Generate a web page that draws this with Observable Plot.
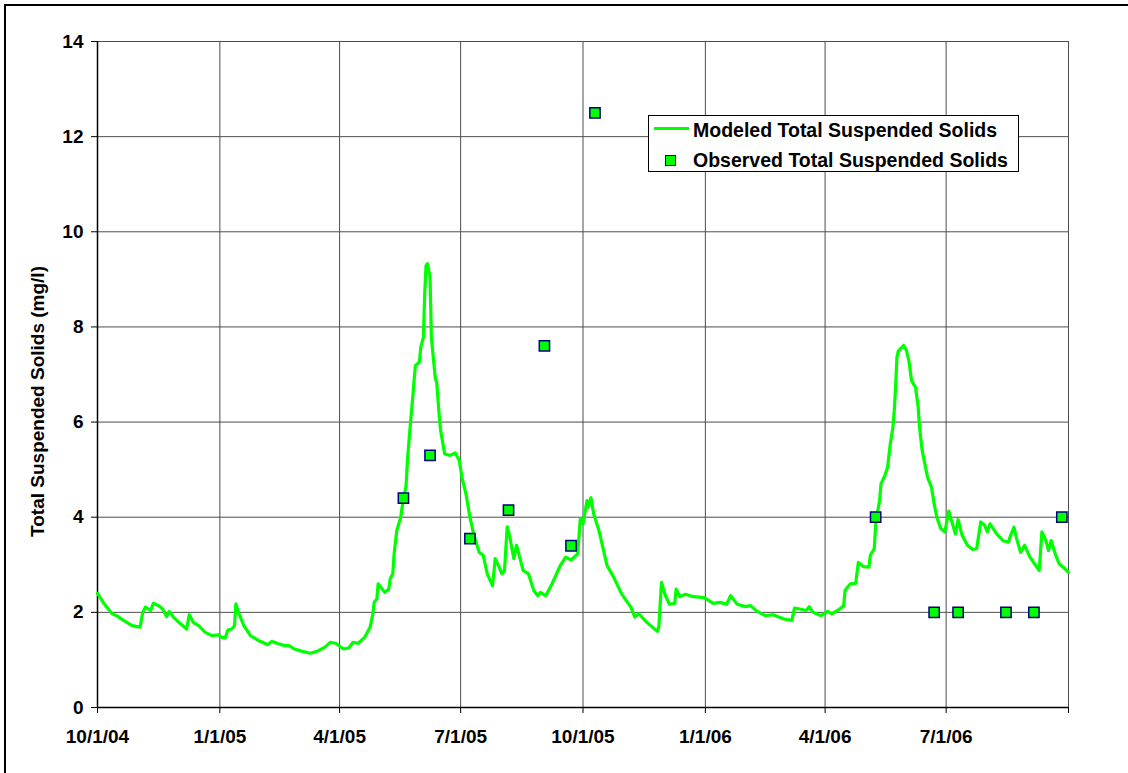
<!DOCTYPE html>
<html>
<head>
<meta charset="utf-8">
<script src="https://cdn.jsdelivr.net/npm/d3@7"></script>
<script src="https://cdn.jsdelivr.net/npm/@observablehq/plot@0.6"></script>
<style>
  html, body { margin: 0; padding: 0; background: #fff; }
  #wrap { position: relative; width: 1128px; height: 773px; overflow: hidden; background: #fff;
          font-family: "Liberation Sans", Arial, sans-serif; }
  #frame { position: absolute; left: 4px; top: 4px; width: 1200px; height: 900px;
           border-left: 2px solid #000; border-top: 2px solid #000; pointer-events: none; }
  #chart { position: absolute; left: 0; top: 0; }
  #legend { position: absolute; left: 648px; top: 115px; width: 371px; height: 57px;
            background: #fff; border: 1px solid #000; box-sizing: border-box; }
  #legend .txt { position: absolute; left: 44px; font-size: 19.5px; font-weight: bold; line-height: 20px;
                 color: #000; white-space: nowrap; }
  #legend .ln { position: absolute; left: 5px; top: 11px; width: 35px; height: 3px; background: #00ff00; }
  #legend .sq { position: absolute; left: 16px; top: 39px; width: 9px; height: 9px; background: #00ff00;
                border: 1.5px solid #000080; }
</style>
</head>
<body>
<div id="wrap">
  <div id="chart"></div>
  <div id="frame"></div>
  <div id="legend">
    <div class="ln"></div>
    <div class="txt" style="top:4px">Modeled Total Suspended Solids</div>
    <div class="sq"></div>
    <div class="txt" style="top:34px">Observed Total Suspended Solids</div>
  </div>
</div>
<script>
const modeledDates = [
"2004-10-01","2004-10-06","2004-10-12","2004-10-16","2004-10-20","2004-10-23","2004-10-27","2004-11-02","2004-11-04","2004-11-06",
"2004-11-10","2004-11-12","2004-11-16","2004-11-19","2004-11-22","2004-11-24","2004-11-27","2004-12-02","2004-12-07","2004-12-09",
"2004-12-12","2004-12-16","2004-12-21","2004-12-26","2004-12-31","2005-01-02","2005-01-05","2005-01-07","2005-01-10","2005-01-12",
"2005-01-13","2005-01-15","2005-01-19","2005-01-24","2005-01-30","2005-02-06","2005-02-09","2005-02-14","2005-02-19","2005-02-22",
"2005-02-26","2005-03-04","2005-03-10","2005-03-15","2005-03-21","2005-03-25","2005-03-29","2005-04-04","2005-04-08","2005-04-11",
"2005-04-15","2005-04-20","2005-04-24","2005-04-26","2005-04-27","2005-04-29","2005-04-30","2005-05-05","2005-05-08","2005-05-09",
"2005-05-11","2005-05-12","2005-05-14","2005-05-17","2005-05-18","2005-05-21","2005-05-22","2005-05-24","2005-05-26","2005-05-27",
"2005-05-28","2005-05-31","2005-06-01","2005-06-03","2005-06-04","2005-06-05","2005-06-06","2005-06-08","2005-06-09","2005-06-12",
"2005-06-13","2005-06-15","2005-06-16","2005-06-19","2005-06-23","2005-06-27","2005-06-30","2005-07-02","2005-07-05","2005-07-08",
"2005-07-11","2005-07-15","2005-07-18","2005-07-21","2005-07-25","2005-07-27","2005-07-30","2005-08-01","2005-08-03","2005-08-05",
"2005-08-07","2005-08-10","2005-08-12","2005-08-14","2005-08-17","2005-08-21","2005-08-25","2005-08-28","2005-08-30","2005-09-03",
"2005-09-07","2005-09-10","2005-09-14","2005-09-18","2005-09-22","2005-09-27","2005-09-29","2005-10-01","2005-10-04","2005-10-05",
"2005-10-07","2005-10-09","2005-10-13","2005-10-19","2005-10-24","2005-10-30","2005-11-06","2005-11-09","2005-11-12","2005-11-18",
"2005-11-26","2005-11-27","2005-11-29","2005-12-02","2005-12-05","2005-12-09","2005-12-10","2005-12-13","2005-12-17","2005-12-23",
"2005-12-31","2006-01-07","2006-01-12","2006-01-17","2006-01-20","2006-01-25","2006-01-31","2006-02-04","2006-02-09","2006-02-15",
"2006-02-21","2006-03-01","2006-03-07","2006-03-09","2006-03-13","2006-03-18","2006-03-20","2006-03-23","2006-03-29","2006-04-03",
"2006-04-06","2006-04-11","2006-04-15","2006-04-16","2006-04-20","2006-04-24","2006-04-26","2006-04-30","2006-05-04","2006-05-05",
"2006-05-08","2006-05-09","2006-05-10","2006-05-12","2006-05-13","2006-05-16","2006-05-18","2006-05-20","2006-05-22","2006-05-23",
"2006-05-24","2006-05-25","2006-05-26","2006-05-30","2006-06-01","2006-06-03","2006-06-05","2006-06-08","2006-06-10","2006-06-11",
"2006-06-13","2006-06-16","2006-06-17","2006-06-20","2006-06-22","2006-06-24","2006-06-27","2006-06-30","2006-07-03","2006-07-05",
"2006-07-08","2006-07-10","2006-07-13","2006-07-17","2006-07-21","2006-07-24","2006-07-27","2006-07-30","2006-08-01","2006-08-03",
"2006-08-08","2006-08-13","2006-08-17","2006-08-18","2006-08-21","2006-08-23","2006-08-26","2006-08-29","2006-09-02","2006-09-09",
"2006-09-11","2006-09-14","2006-09-16","2006-09-18","2006-09-21","2006-09-24","2006-09-27","2006-10-01"
];
const modeledValues = [
2.40,2.18,1.97,1.92,1.84,1.79,1.72,1.69,2.00,2.11,
2.04,2.19,2.14,2.07,1.91,2.02,1.90,1.77,1.65,1.95,
1.79,1.72,1.58,1.51,1.53,1.48,1.46,1.63,1.65,1.72,
2.18,2.00,1.72,1.51,1.41,1.32,1.39,1.34,1.30,1.30,
1.23,1.18,1.14,1.18,1.27,1.37,1.35,1.23,1.25,1.37,
1.35,1.48,1.69,1.97,2.21,2.28,2.60,2.42,2.49,2.70,
2.81,3.23,3.72,4.00,4.21,4.67,5.19,5.89,6.52,6.87,
7.19,7.26,7.57,7.78,8.70,9.29,9.33,9.05,7.78,6.91,
6.84,6.10,5.82,5.33,5.30,5.35,5.19,4.84,4.49,4.00,
3.62,3.26,3.20,2.81,2.56,3.13,2.95,2.81,2.88,3.80,
3.58,3.13,3.41,3.20,2.88,2.81,2.46,2.35,2.42,2.35,
2.56,2.74,2.99,3.16,3.10,3.23,3.97,3.86,4.35,4.21,
4.41,4.07,3.72,2.99,2.74,2.39,2.11,1.90,1.97,1.79,
1.60,1.69,2.63,2.35,2.17,2.19,2.49,2.33,2.38,2.33,
2.31,2.19,2.21,2.17,2.35,2.17,2.12,2.14,2.02,1.93,
1.95,1.86,1.83,2.09,2.07,2.04,2.12,2.00,1.93,2.02,
1.97,2.05,2.14,2.46,2.60,2.61,3.05,2.96,2.95,3.20,
3.34,3.83,4.04,4.35,4.70,4.88,5.05,5.54,5.89,6.24,
6.73,7.36,7.49,7.61,7.52,7.29,6.87,6.73,6.31,5.89,
5.40,4.98,4.84,4.63,4.28,4.00,3.76,3.69,4.13,3.93,
3.65,3.95,3.62,3.41,3.32,3.34,3.90,3.83,3.69,3.86,
3.65,3.50,3.48,3.58,3.79,3.55,3.26,3.41,3.16,2.88,
3.69,3.51,3.30,3.51,3.23,3.02,2.95,2.84
];
const observedDates = [
"2005-05-19","2005-06-08","2005-07-08","2005-08-06","2005-09-02","2005-09-22","2005-10-10",
"2006-05-09","2006-06-22","2006-07-10","2006-08-15","2006-09-05","2006-09-26"
];
const observedValues = [4.4, 5.3, 3.55, 4.15, 7.6, 3.4, 12.5, 4.0, 2.0, 2.0, 2.0, 2.0, 4.0];
const xTickDates = ["2004-10-01","2005-01-01","2005-04-01","2005-07-01","2005-10-01","2006-01-01","2006-04-01","2006-07-01","2006-10-01"];
const yTicks = [0, 2, 4, 6, 8, 10, 12, 14];
const yTitle = "Total Suspended Solids (mg/l)";

const parse = d3.utcParse("%Y-%m-%d");
const modeled = modeledDates.map((d, i) => ({date: parse(d), value: modeledValues[i]}));
const observed = observedDates.map((d, i) => ({date: parse(d), value: observedValues[i]}));
const xTicks = xTickDates.map(parse);
const lastTick = xTicks[xTicks.length - 1];
const fmt = d3.utcFormat("%-m/%-d/%y");
const font = '"Liberation Sans", Arial, sans-serif';

const chart = Plot.plot({
  width: 1128,
  height: 773,
  marginLeft: 97,
  marginRight: 60,
  marginTop: 41,
  marginBottom: 66,
  style: {fontFamily: font, fontSize: "19px", fontWeight: "bold", color: "#000", background: "transparent"},
  x: {type: "utc", domain: [xTicks[0], lastTick]},
  y: {domain: [0, 14]},
  marks: [
    Plot.gridX(xTicks, {stroke: "#4d4d4d", strokeOpacity: 1, strokeWidth: 1}),
    Plot.gridY(yTicks, {stroke: "#4d4d4d", strokeOpacity: 1, strokeWidth: 1}),
    Plot.axisX(xTicks, {tickSize: 6, tickPadding: 16, label: null, stroke: "#000",
      tickFormat: d => (+d === +lastTick ? "" : fmt(d)), fontSize: 19, fontWeight: "bold"}),
    Plot.axisY(yTicks, {tickSize: 6, tickPadding: 8, label: null, stroke: "#000",
      fontSize: 19, fontWeight: "bold"}),
    Plot.ruleX([xTicks[0]], {stroke: "#000", strokeWidth: 1.5}),
    Plot.ruleY([0], {stroke: "#000", strokeWidth: 1.5}),
    Plot.line(modeled, {x: "date", y: "value", stroke: "#00ff00", strokeWidth: 3.2, curve: "linear"}),
    Plot.dot(observed, {x: "date", y: "value", symbol: "square", r: 5.8, fill: "#00ff00",
      stroke: "#000080", strokeWidth: 1.5}),
    Plot.text([yTitle], {frameAnchor: "left", textAnchor: "middle", rotate: -90, dx: -60, dy: 27,
      fontSize: 19, fontWeight: "bold", fill: "#000"})
  ]
});
document.getElementById("chart").appendChild(chart);
</script>
</body>
</html>
